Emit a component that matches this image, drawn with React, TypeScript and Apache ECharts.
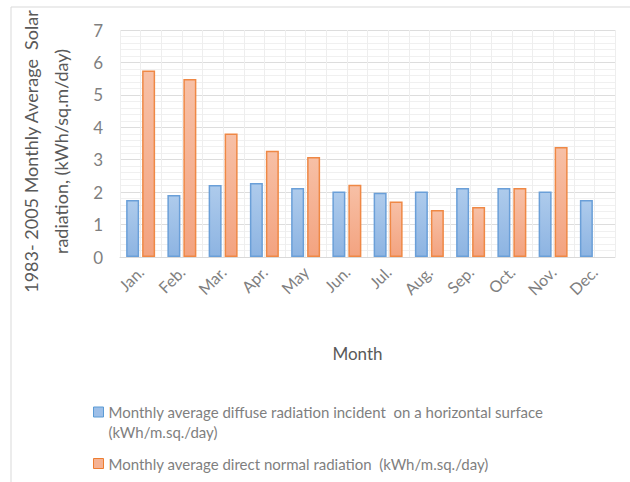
import React, { useEffect, useRef } from "react";
import * as echarts from "echarts";

const months = ["Jan.", "Feb.", "Mar.", "Apr.", "May", "Jun.", "Jul.", "Aug.", "Sep.", "Oct.", "Nov.", "Dec."];
const diffuse = [1.76, 1.91, 2.22, 2.28, 2.13, 2.02, 1.98, 2.02, 2.13, 2.13, 2.02, 1.76];
const directNormal: (number | null)[] = [5.75, 5.49, 3.81, 3.28, 3.08, 2.23, 1.71, 1.45, 1.54, 2.13, 3.39, null];
const seriesNames = [
  "Monthly average diffuse radiation incident  on a horizontal surface\n(kWh/m.sq./day)",
  "Monthly average direct normal radiation  (kWh/m.sq./day)",
];
const yAxisTitle = "1983- 2005 Monthly Average  Solar\nradiation, (kWh/sq.m/day)";
const xAxisTitle = "Month";

const FONT = "Lato";
const GRAY = "#7f7f7f";

export default function App() {
  const ref = useRef<HTMLDivElement>(null);
  useEffect(() => {
    if (!ref.current) return;
    const chart = echarts.init(ref.current, null, { renderer: "svg" });
    const blueFill = new echarts.graphic.LinearGradient(0, 0, 0, 1, [
      { offset: 0, color: "#aecbec" },
      { offset: 1, color: "#8db4e2" },
    ]);
    const orangeFill = new echarts.graphic.LinearGradient(0, 0, 0, 1, [
      { offset: 0, color: "#f7c0a6" },
      { offset: 1, color: "#f3a380" },
    ]);
    chart.setOption({
      animation: false,
      textStyle: { fontFamily: FONT },
      graphic: [
        {
          type: "rect",
          shape: { x: 11, y: 7, width: 800, height: 700 },
          style: { fill: "none", stroke: "#d9d9d9", lineWidth: 1 },
          silent: true,
        },
      ],
      grid: { left: 120, right: 15, top: 30, bottom: 225, outerBoundsMode: "none", containLabel: false },
      legend: [
        {
          left: 93,
          top: 402,
          padding: 0,
          orient: "vertical",
          itemWidth: 10,
          itemHeight: 30,
          data: [
            {
              name: seriesNames[0],
              icon: "path://M0,0h10v10h-10z M0,30 L0.01,30",
              itemStyle: { color: "#9dbfe8", borderColor: "#5b9bd5", borderWidth: 1 },
            },
          ],
          textStyle: { fontFamily: FONT, fontSize: 15, color: GRAY, lineHeight: 20 },
        },
        {
          left: 93,
          top: 456,
          padding: 0,
          orient: "vertical",
          itemWidth: 10,
          itemHeight: 10,
          data: [
            {
              name: seriesNames[1],
              icon: "rect",
              itemStyle: { color: "#f5b293", borderColor: "#ed7d31", borderWidth: 1 },
            },
          ],
          textStyle: { fontFamily: FONT, fontSize: 15, color: GRAY },
        },
      ],
      xAxis: [
        {
          type: "category",
          data: months,
          axisTick: { show: false },
          axisLine: { lineStyle: { color: "#d9d9d9" } },
          axisLabel: { rotate: 45, color: GRAY, fontSize: 16, fontFamily: FONT, margin: 12 },
          name: xAxisTitle,
          nameLocation: "middle",
          nameGap: 88,
          nameTextStyle: { color: "#595959", fontSize: 17, fontFamily: FONT, padding: [0, 20, 0, 0] },
          splitLine: { show: false },
        },
        {
          type: "value",
          min: 0,
          max: 24,
          interval: 1,
          show: true,
          position: "bottom",
          axisLine: { show: false },
          axisTick: { show: false },
          axisLabel: { show: false },
          splitLine: { show: true, lineStyle: { color: "#eeeeee", width: 1 } },
        },
      ],
      yAxis: {
        type: "value",
        min: 0,
        max: 7,
        interval: 1,
        axisLine: { show: false },
        axisTick: { show: false },
        axisLabel: { color: GRAY, fontSize: 17, fontFamily: FONT, margin: 17 },
        splitLine: { lineStyle: { color: "#dddddd" } },
        minorTick: { show: false, splitNumber: 5 },
        minorSplitLine: { show: true, lineStyle: { color: "#f0f0f0" } },
        name: yAxisTitle,
        nameLocation: "middle",
        nameRotate: 90,
        nameGap: 44,
        nameTextStyle: {
          color: "#595959",
          fontSize: 18,
          fontFamily: FONT,
          lineHeight: 30,
          align: "center",
          padding: [0, 16, 0, 0],
        },
      },
      series: [
        {
          name: seriesNames[0],
          type: "bar",
          xAxisIndex: 0,
          data: diffuse,
          barWidth: 13,
          barGap: "23%",
          itemStyle: { color: blueFill, borderColor: "#6a9fd8", borderWidth: 1.5 },
        },
        {
          name: seriesNames[1],
          type: "bar",
          xAxisIndex: 0,
          data: directNormal,
          barWidth: 13,
          barGap: "23%",
          itemStyle: { color: orangeFill, borderColor: "#ef8845", borderWidth: 1.5 },
        },
      ],
    });
    return () => chart.dispose();
  }, []);
  return (
    <div
      ref={ref}
      style={{ position: "absolute", left: 0, top: 0, width: 630, height: 482, background: "#fff" }}
    />
  );
}
